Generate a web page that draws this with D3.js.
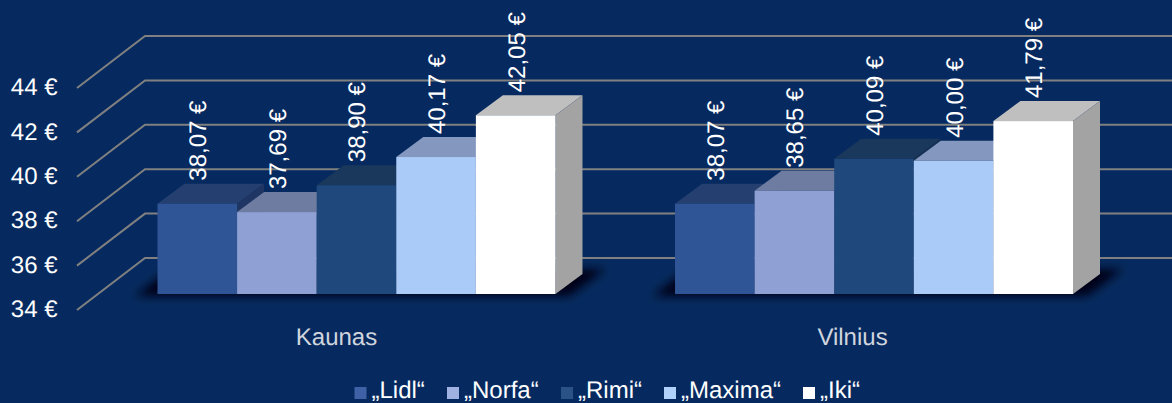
<!DOCTYPE html>
<html>
<head>
<meta charset="utf-8">
<script src="https://cdn.jsdelivr.net/npm/d3@7"></script>
<style>
    html, body { margin: 0; padding: 0; background: #062a5f; overflow: hidden; }
    svg { display: block; }
    text { font-family: "Liberation Sans", Arial, sans-serif; font-size: 24px; text-rendering: geometricPrecision; }
</style>
</head>
<body>
<svg id="chart" width="1172" height="403"></svg>
<script>
var cities = ["Kaunas", "Vilnius"];
var shops = ["„Lidl“", "„Norfa“", "„Rimi“", "„Maxima“", "„Iki“"];
var kaunasPrices = [38.07, 37.69, 38.90, 40.17, 42.05];
var vilniusPrices = [38.07, 38.65, 40.09, 40.00, 41.79];
var axisTicks = [34, 36, 38, 40, 42, 44];
var frontColors = ["#2f5597", "#8fa0d4", "#1f487c", "#aacbf8", "#ffffff"];
var topColors = ["#243f70", "#6d7ca0", "#1a375c", "#8498bf", "#bfbfbf"];
var sideColors = ["#1f3563", "#5f6d92", "#16304f", "#7485a8", "#a3a3a3"];
var legendColors = ["#3e62a5", "#a0b2e1", "#2b5287", "#b0d2fa", "#ffffff"];
var legendSwatchX = [354.5, 447, 561, 664, 803];

var width = 1172,
    height = 403;

var svg = d3.select("#chart");

// axis sits on the front edge of the floor, gridlines run back along the wall
var y = d3.scaleLinear().domain([34, 44]).range([310, 88]);
var axisX = 77;
var wallDx = 68, wallDy = -52;
var floorY = 294;  // bars stand further forward than the wall
var depthX = 27, depthY = -20;

var x0 = d3.scaleBand().domain(cities).range([157.5, 1073]).paddingInner(0.231);
var x1 = d3.scaleBand().domain(shops).range([0, x0.bandwidth()]);
var barHeight = function(v) { return y(34) - y(v); };

var defs = svg.append("defs");
defs.append("filter")
    .attr("id", "blur")
    .attr("x", "-10%").attr("y", "-50%")
    .attr("width", "120%").attr("height", "200%")
    .append("feGaussianBlur")
    .attr("stdDeviation", 5);

// gridlines
var grid = svg.append("g");
axisTicks.forEach(function(t) {
    grid.append("polyline")
        .attr("points", [
            [axisX, y(t)],
            [axisX + wallDx, y(t) + wallDy],
            [width, y(t) + wallDy]
        ].map(function(p) { return p.join(","); }).join(" "))
        .attr("fill", "none")
        .attr("stroke", "#808080")
        .attr("stroke-width", 2);
});

// axis labels
var axis = d3.axisLeft(y)
    .tickValues(axisTicks)
    .tickSize(0)
    .tickPadding(0)
    .tickFormat(function(d) { return d + " €"; });
var axisG = svg.append("g").attr("transform", "translate(57.5,-1)").call(axis);
axisG.select(".domain").remove();
axisG.selectAll("text")
    .attr("fill", "#ffffff")
    .style("font-family", '"Liberation Sans", Arial, sans-serif')
    .style("font-size", "24px");

// bars
function drawGroup(city, values, labelOffset) {
    var left = x0(city);
    var right = left + x0.bandwidth();

    // soft shadow on the floor
    svg.append("polygon")
        .attr("points", [
            [left - 22, floorY + 2],
            [left + 6, floorY - 20],
            [right + 50, floorY - 25],
            [right + 14, floorY + 2]
        ].map(function(p) { return p.join(","); }).join(" "))
        .attr("fill", "#000414")
        .attr("filter", "url(#blur)");

    var g = svg.append("g");
    values.forEach(function(v, i) {
        var bx = left + x1(shops[i]);
        var w = x1.bandwidth();
        var h = barHeight(v);
        var top = floorY - h;

        g.append("polygon")
            .attr("points", [
                [bx, top], [bx + depthX, top + depthY],
                [bx + w + depthX, top + depthY], [bx + w, top]
            ].map(function(p) { return p.join(","); }).join(" "))
            .attr("fill", topColors[i]);
        g.append("polygon")
            .attr("points", [
                [bx + w, top], [bx + w + depthX, top + depthY],
                [bx + w + depthX, floorY + depthY], [bx + w, floorY]
            ].map(function(p) { return p.join(","); }).join(" "))
            .attr("fill", sideColors[i]);
        g.append("rect")
            .attr("x", bx)
            .attr("y", top)
            .attr("width", w)
            .attr("height", h)
            .attr("fill", frontColors[i]);
    });

    // labels go on top of all the bars of the group
    values.forEach(function(v, i) {
        var bx = left + x1(shops[i]) + x1.bandwidth() / 2 + 9;
        var by = floorY - barHeight(v) + depthY - 3;
        g.append("text")
            .attr("transform", "translate(" + bx + "," + by + ") rotate(-90)")
            .attr("fill", "#ffffff")
            .text(v.toFixed(2).replace(".", ",") + " €");
    });

    svg.append("text")
        .attr("x", (left + right) / 2 + labelOffset)
        .attr("y", 345)
        .attr("text-anchor", "middle")
        .attr("fill", "#d0d5de")
        .text(city);
}

drawGroup("Kaunas", kaunasPrices, -20);
drawGroup("Vilnius", vilniusPrices, -21.5);

// legend
var legend = svg.append("g");
shops.forEach(function(s, i) {
    legend.append("rect")
        .attr("x", legendSwatchX[i])
        .attr("y", 387)
        .attr("width", 12)
        .attr("height", 12)
        .attr("fill", legendColors[i]);
    legend.append("text")
        .attr("x", legendSwatchX[i] + 17)
        .attr("y", 397.8)
        .attr("fill", "#ffffff")
        .text(s);
});
</script>
</body>
</html>
